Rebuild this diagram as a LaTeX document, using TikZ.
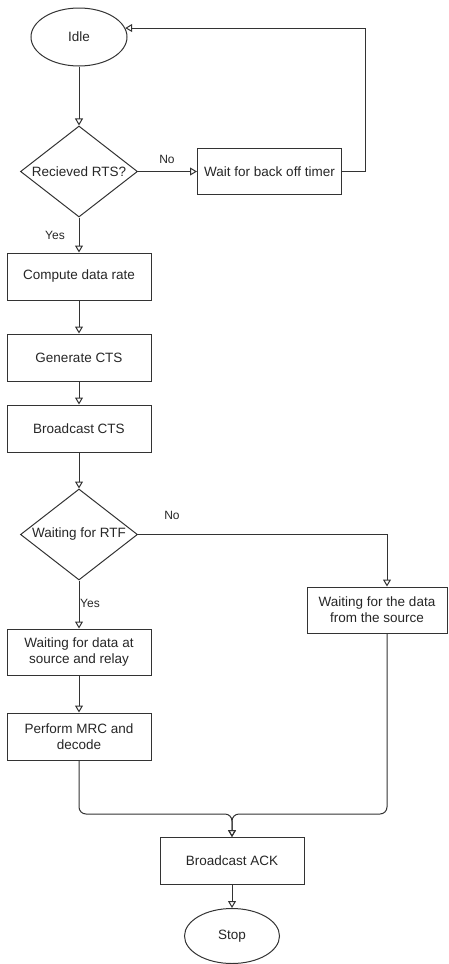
\documentclass[tikz,border=0pt]{standalone}
\usepackage{fontspec}
\setmainfont{Liberation Sans}
\usetikzlibrary{positioning,arrows.meta,shapes.geometric}

\begin{document}
\begin{tikzpicture}[
  x=1pt, y=-1pt,
  font=\fontsize{13.5}{16}\selectfont,
  st/.style={draw=black!80, line width=1pt, align=center, text=black!85,
             minimum width=144pt, minimum height=47pt, inner sep=2pt},
  dec/.style={draw=black!80, line width=1pt, diamond, inner sep=0pt, text=black!85,
              minimum width=117pt, minimum height=91pt},
  term/.style={draw=black!80, line width=1pt, ellipse, inner sep=0pt, text=black!85,
               minimum width=96pt, minimum height=58pt},
  tag/.style={font=\fontsize{12}{14}\selectfont, text=black!85},
  arr/.style={-{Triangle[open, length=7pt, width=8pt]}, draw=black!80, line width=1pt}
]
\useasboundingbox (0,0) rectangle (448,964);
\node[term] (idle) at (79,37) {Idle};
\node[dec, below=59pt of idle] (rts) {\makebox[0pt]{Recieved RTS?}};
\node[st, right=59pt of rts, minimum height=46pt] (wait) {Wait for back off timer};
\node[st, below=35pt of rts] (rate) {Compute data rate};
\node[st, below=33pt of rate] (gen) {Generate CTS};
\node[st, below=23pt of gen] (bcts) {Broadcast CTS};
\node[dec, below=36pt of bcts] (rtf) {\makebox[0pt]{Waiting for RTF}};
\node[st, below=48pt of rtf, minimum height=46pt] (wrel) {Waiting for data at\\source and relay};
\node[st, below=37pt of wrel] (mrc) {Perform MRC and\\decode};
\node[st, minimum width=140pt, minimum height=46pt] (wsrc) at (377,610) {Waiting for the data\\from the source};
\node[st] (ack) at (232,861) {Broadcast ACK};
\node[term, below=23pt of ack, minimum width=95pt, minimum height=55pt] (stop) {Stop};
\coordinate (mrg) at (232,814);
% connectors
\draw[arr] (idle) -- (rts);
\draw[arr] (rts) -- (wait);
\draw[arr] (wait.east) -- ++(23,0) |- (idle.11);
\draw[arr] (rts) -- (rate);
\foreach \a/\b in {rate/gen, gen/bcts, bcts/rtf, rtf/wrel, wrel/mrc, ack/stop}
  \draw[arr] (\a) -- (\b);
\draw[arr] (rtf.east) -| ([xshift=10pt]wsrc.north);
\draw[arr, rounded corners=7pt] (mrc.south) |- (mrg) -- (ack.north);
\draw[arr, rounded corners=7pt] ([xshift=10pt]wsrc.south) |- (mrg) -- (ack.north);
% branch labels
\node[tag] (no1) at (167,159) {No};
\node[tag] (yes1) at (55,235) {Yes};
\node[tag] (no2) at (172,515) {No};
\node[tag] (yes2) at (90,603) {Yes};
\end{tikzpicture}
\end{document}
